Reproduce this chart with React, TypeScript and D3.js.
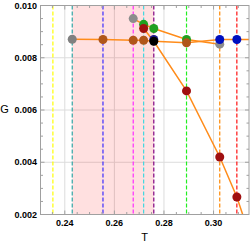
import React, { useEffect, useRef } from "react";
import * as d3 from "d3";

// vertical reference lines (T values) and their colours
const markT = [0.2352, 0.243, 0.2554, 0.2676, 0.2718, 0.2759, 0.2891, 0.3025, 0.3094];
const markColors = ["#ffff00", "#2fa5a5", "#3a2aff", "#ff2aff", "#3fd8e0", "#800080", "#22ee22", "#ff8800", "#ff1010"];
const shadeT = [0.243, 0.2759];

// branches
const mainT = [0.243, 0.2554, 0.2676, 0.2718, 0.2759, 0.2891, 0.3025, 0.3094, 0.32];
const mainG = [0.00871, 0.0087, 0.00867, 0.00867, 0.00863, 0.00857, 0.0087, 0.0087, 0.0087];
const mainPts = ["#808080", "#b0561a", "#b0561a", "#b0561a", "#000000", "#b0561a", "#0010c0", "#0010c0", ""];

const upperT = [0.2676, 0.2718, 0.2759, 0.2891, 0.3025];
const upperG = [0.0095, 0.00928, 0.00912, 0.0087, 0.00852];
const upperPts = ["#8c8c8c", "#20a020", "#20a020", "#20a020", "#8c8c8c"];

const lowerT = [0.2718, 0.2759, 0.2891, 0.3025, 0.3094, 0.3135];
const lowerG = [0.00912, 0.00863, 0.00673, 0.0042, 0.00267, 0.0015];
const lowerPts = ["#a01010", "", "#a01010", "#a01010", "#a01010", ""];

const xTicks = [0.24, 0.26, 0.28, 0.3];
const xTickLabels = ["0.24", "0.26", "0.28", "0.30"];
const yTicks = [0.002, 0.004, 0.006, 0.008, 0.01];
const yTickLabels = ["0.002", "0.004", "0.006", "0.008", "0.010"];

const W = 250, H = 244;
const left = 40.5, right = 249, top = 5.5, bottom = 214.5;

export default function App() {
  const ref = useRef<SVGSVGElement>(null);

  useEffect(() => {
    const svg = d3.select(ref.current);
    svg.selectAll("*").remove();

    const x = d3.scaleLinear().domain([0.2302, 0.3143]).range([left, right]);
    const y = d3.scaleLinear().domain([0.002, 0.01]).range([bottom, top]);

    svg.append("defs").append("clipPath").attr("id", "plotclip")
      .append("rect").attr("x", left).attr("y", top)
      .attr("width", right - left).attr("height", bottom - top);

    const g = svg.append("g").attr("clip-path", "url(#plotclip)");

    // grid
    g.selectAll(".gx").data(xTicks).enter().append("line")
      .attr("x1", (d) => x(d)).attr("x2", (d) => x(d))
      .attr("y1", top).attr("y2", bottom)
      .attr("stroke", "#dcdcdc").attr("stroke-width", 1);
    g.selectAll(".gy").data([0.004, 0.006, 0.008]).enter().append("line")
      .attr("x1", left).attr("x2", right)
      .attr("y1", (d) => y(d)).attr("y2", (d) => y(d))
      .attr("stroke", "#dcdcdc").attr("stroke-width", 1);

    // shaded band
    g.append("rect")
      .attr("x", x(shadeT[0])).attr("y", top)
      .attr("width", x(shadeT[1]) - x(shadeT[0])).attr("height", bottom - top)
      .attr("fill", "#ff0000").attr("fill-opacity", 0.12);

    // dashed markers
    g.selectAll(".vm").data(markT).enter().append("line")
      .attr("x1", (d) => x(d)).attr("x2", (d) => x(d))
      .attr("y1", top).attr("y2", bottom)
      .attr("stroke", (d, i) => markColors[i])
      .attr("stroke-width", 1.2)
      .attr("stroke-dasharray", "4,2");

    const line = d3.line<[number, number]>()
      .x((d) => x(d[0])).y((d) => y(d[1]));

    const branches = [
      { t: mainT, v: mainG, c: mainPts },
      { t: upperT, v: upperG, c: upperPts },
      { t: lowerT, v: lowerG, c: lowerPts },
    ];

    branches.forEach((b) => {
      g.append("path")
        .datum(b.t.map((t, i) => [t, b.v[i]] as [number, number]))
        .attr("d", line)
        .attr("fill", "none")
        .attr("stroke", "#ff8c1a")
        .attr("stroke-width", 1.5);
    });

    // extra point hidden under the black one
    g.append("circle").attr("cx", x(0.2759)).attr("cy", y(0.0087)).attr("r", 4.5).attr("fill", "#1a1a8c");

    [branches[1], branches[2], branches[0]].forEach((b) => {
      g.selectAll(null)
        .data(b.t.map((t, i) => ({ t, v: b.v[i], c: b.c[i] })).filter((d) => d.c !== ""))
        .enter().append("circle")
        .attr("cx", (d) => x(d.t)).attr("cy", (d) => y(d.v))
        .attr("r", 4.5)
        .attr("fill", (d) => d.c);
    });

    // frame
    svg.append("rect")
      .attr("x", left).attr("y", top)
      .attr("width", right - left).attr("height", bottom - top)
      .attr("fill", "none").attr("stroke", "#a0a0a0").attr("stroke-width", 1);

    // ticks
    const xMinor = d3.range(0.23, 0.3151, 0.005);
    const yMinor = d3.range(0.002, 0.01001, 0.0005);
    const tk = svg.append("g").attr("stroke", "#a0a0a0").attr("stroke-width", 1);
    xMinor.forEach((t) => {
      if (x(t) < left || x(t) > right) return;
      const major = xTicks.some((m) => Math.abs(m - t) < 1e-6);
      const len = major ? 4 : 2.5;
      tk.append("line").attr("x1", x(t)).attr("x2", x(t)).attr("y1", bottom).attr("y2", bottom - len);
      tk.append("line").attr("x1", x(t)).attr("x2", x(t)).attr("y1", top).attr("y2", top + len);
    });
    yMinor.forEach((v) => {
      const major = yTicks.some((m) => Math.abs(m - v) < 1e-7);
      const len = major ? 4 : 2.5;
      tk.append("line").attr("x1", left).attr("x2", left + len).attr("y1", y(v)).attr("y2", y(v));
      tk.append("line").attr("x1", right).attr("x2", right - len).attr("y1", y(v)).attr("y2", y(v));
    });

    const font = "'Liberation Sans', Arial, sans-serif";
    svg.selectAll(".xl").data(xTicks).enter().append("text")
      .attr("x", (d) => x(d)).attr("y", bottom + 11)
      .attr("text-anchor", "middle")
      .attr("font-family", font).attr("font-size", 9).attr("font-weight", "bold")
      .text((d, i) => xTickLabels[i]);
    svg.selectAll(".yl").data(yTicks).enter().append("text")
      .attr("x", left - 3.5).attr("y", (d) => y(d) + 3.2)
      .attr("text-anchor", "end")
      .attr("font-family", font).attr("font-size", 9).attr("font-weight", "bold")
      .text((d, i) => yTickLabels[i]);

    svg.append("text").attr("x", 144.5).attr("y", 241)
      .attr("text-anchor", "middle").attr("font-family", font).attr("font-size", 11)
      .text("T");
    svg.append("text").attr("x", 4.5).attr("y", 113)
      .attr("text-anchor", "middle").attr("font-family", font).attr("font-size", 11)
      .text("G");
  }, []);

  return (
    <svg ref={ref} width={W} height={H}
      style={{ position: "absolute", left: 0, top: 0, display: "block" }} />
  );
}
